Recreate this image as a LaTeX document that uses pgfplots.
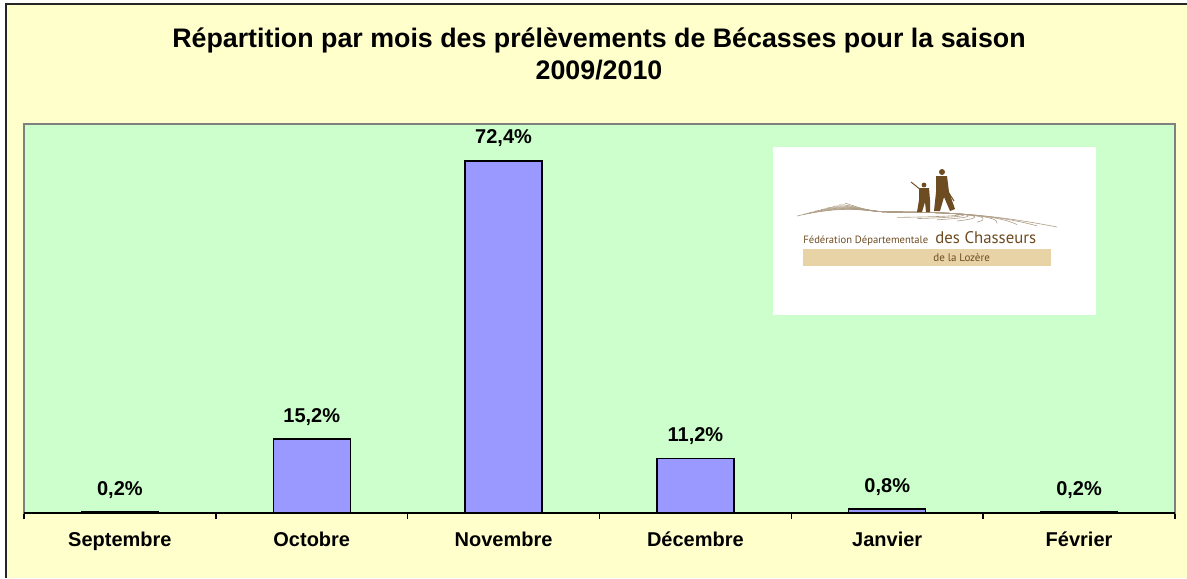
\documentclass[border=0pt]{standalone}
\usepackage{fontspec}
\setmainfont{Liberation Sans}
\newfontfamily\logofont{PT Sans}
\usepackage{pgfplots}
\pgfplotsset{compat=1.18}
\definecolor{chartbg}{HTML}{FFFFCC}
\definecolor{plotbg}{HTML}{CCFFCC}
\definecolor{barfill}{HTML}{9999FF}
\definecolor{logobrown}{HTML}{6E4C22}
\definecolor{logotan}{HTML}{E8D3A6}

\begin{document}
\begin{tikzpicture}
\useasboundingbox (0,0) rectangle (593.5pt,-289pt);
\fill[chartbg] (3pt,-2pt) rectangle (593.5pt,-289pt);
\draw[black!85, line width=0.8pt] (3pt,-289pt) -- (3pt,-2pt) -- (593.5pt,-2pt);

% ---- title ----
\node[font=\bfseries\fontsize{13.4}{15}\selectfont, anchor=base, inner sep=0]
    at (299.5pt,-23.5pt) {Répartition par mois des prélèvements de Bécasses pour la saison};
\node[font=\bfseries\fontsize{13.4}{15}\selectfont, anchor=base, inner sep=0]
    at (299.5pt,-39.5pt) {2009/2010};

\begin{axis}[
    at={(12pt,-256.5pt)}, anchor=south west,
    scale only axis, width=575.5pt, height=194.5pt,
    xmin=-0.5, xmax=5.5, ymin=0, ymax=80,
    axis background/.style={fill=plotbg},
    axis line style={draw=black!50, line width=0.6pt},
    ytick=\empty,
    xtick={0,...,5},
    xticklabels={\textbf{Septembre},\textbf{Octobre},\textbf{Novembre},\textbf{Décembre},\textbf{Janvier},\textbf{Février}},
    minor xtick={-0.5,0.5,...,5.5},
    xtick pos=lower,
    tick align=outside, major tick length=0pt, minor tick length=3pt,
    minor tick style={black, line width=0.7pt},
    xticklabel style={font=\bfseries\fontsize{10}{12}\selectfont, yshift=-6pt},
    ybar, bar width=38.5pt,
    nodes near coords={\pgfmathprintnumber[fixed, fixed zerofill, precision=1, use comma, assume math mode=true]{\pgfplotspointmeta}\%},
    nodes near coords align={anchor=base},
    every node near coord/.append style={font=\bfseries\fontsize{10}{12}\selectfont, yshift=8.5pt},
    clip=false,
]
\addplot[fill=barfill, draw=black, line width=0.7pt]
    coordinates {(0,0.2) (1,15.2) (2,72.4) (3,11.2) (4,0.8) (5,0.2)};
\draw[black, line width=0.8pt] (rel axis cs:0,0) -- (rel axis cs:1,0);
\end{axis}

% ---- logo ----
\begin{scope}[x=0.5pt, y=-0.5pt]
\fill[white] (773,147) rectangle (1096,315);
\fill[logotan] (803,249) rectangle (1051,266);
\foreach \i in {0,...,8} {
  \draw[logobrown!55, line width=0.3pt]
    (797+6*\i, 216-1.6*\i) .. controls (850,204) and (866,212) .. (890,212)
    .. controls (960,212) and (1000,216) .. (1057-20*\i, 227-1.2*\i);
}
% small hunter
\fill[logobrown] (924,185) circle (2.4);
\fill[logobrown] (919,188) -- (929,188) -- (930,200) -- (930,212) -- (926,212) -- (925,202)
    -- (922,212) -- (917,212) -- (919,200) -- cycle;
\draw[logobrown, line width=0.5pt] (921,190) -- (911,182);
% big hunter
\fill[logobrown] (942,172) circle (3);
\fill[logobrown] (936,176) -- (947,176) -- (949,192) -- (955,209) -- (950,211) -- (944,197)
    -- (940,211) -- (934,211) -- (936,192) -- cycle;
\draw[logobrown, line width=0.5pt] (945,187) -- (954,201);
\node[anchor=base west, inner sep=0, text=logobrown, font=\logofont\fontsize{5.3}{7}\selectfont]
    at (803,243) {Fédération Départementale};
\node[anchor=base west, inner sep=0, text=logobrown, font=\logofont\fontsize{8.4}{10}\selectfont]
    at (935,243) {des Chasseurs};
\node[anchor=base west, inner sep=0, text=logobrown, font=\logofont\fontsize{5.5}{7}\selectfont]
    at (933,261) {de la Lozère};
\end{scope}
\end{tikzpicture}
\end{document}
